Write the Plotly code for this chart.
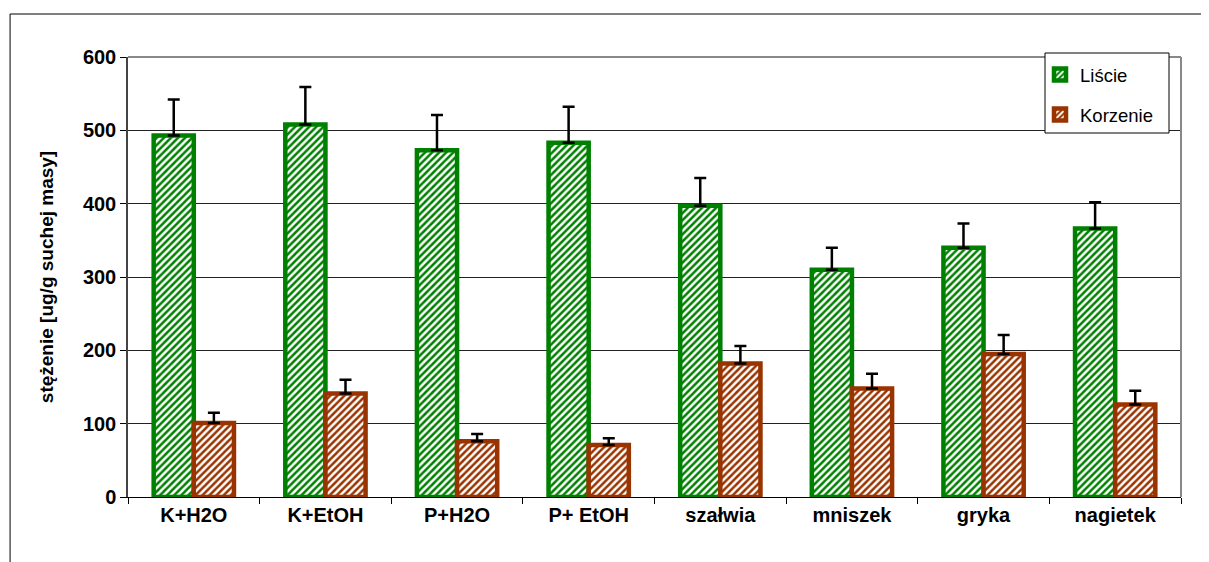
import plotly.graph_objects as go

categories = ["K+H2O", "K+EtOH", "P+H2O", "P+ EtOH", "szałwia", "mniszek", "gryka", "nagietek"]
liscie = [493, 508, 473, 483, 397, 310, 340, 366]
liscie_err = [49, 51, 48, 49, 38, 30, 33, 36]
korzenie = [101, 141, 76, 71, 182, 148, 195, 126]
korzenie_err = [14, 19, 10, 9, 24, 20, 26, 19]
y_ticks = [0, 100, 200, 300, 400, 500, 600]

GREEN = "#008000"
BROWN = "#993300"
FONT = "Liberation Sans, Arial, sans-serif"

# plot area in page pixels (page body has an 8px margin)
PX0, PX1, PY0, PY1 = 128, 1181, 57, 497


def px(x):
    return (x - PX0) / (PX1 - PX0)


def py(y):
    return (PY1 - y) / (PY1 - PY0)


fig = go.Figure()
for name, vals, errs, col in [("Liście", liscie, liscie_err, GREEN),
                              ("Korzenie", korzenie, korzenie_err, BROWN)]:
    fig.add_trace(go.Bar(
        name=name, x=categories, y=vals, legendgroup=name,
        marker=dict(color=col, line=dict(color=col, width=4.5),
                    pattern=dict(shape="/", fgcolor="white", bgcolor=col,
                                 fillmode="replace", size=5, solidity=0.5)),
        error_y=dict(type="data", symmetric=False, array=errs,
                     arrayminus=[0] * len(errs), color="black",
                     thickness=2.5, width=6),
    ))

fig.update_layout(
    width=1209, height=562,
    margin=dict(l=PX0 - 8, r=1209 + 8 - PX1, t=PY0 - 8, b=562 + 8 - PY1),
    paper_bgcolor="white", plot_bgcolor="white",
    barmode="group", bargap=0.39, bargroupgap=0,
    font=dict(family=FONT, color="black"),
    showlegend=True,
    legend=dict(x=px(1040), y=py(56), xanchor="left", yanchor="top",
                bgcolor="rgba(0,0,0,0)", borderwidth=0,
                font=dict(size=18.5, family=FONT), tracegroupgap=13,
                traceorder="grouped"),
    xaxis=dict(showgrid=False, showline=True, linecolor="black", linewidth=1,
               ticks="outside", tickson="boundaries", ticklen=6, tickcolor="black",
               tickfont=dict(size=20, family=FONT, weight="bold"),
               fixedrange=True),
    yaxis=dict(range=[0, 600], tickvals=y_ticks, showgrid=True, gridcolor="#222",
               gridwidth=1, showline=True, linecolor="#444", linewidth=1.5,
               ticks="outside", ticklen=6, tickcolor="black", zeroline=False,
               tickfont=dict(size=20, family=FONT, weight="bold"),
               title=dict(text="stężenie [ug/g suchej masy]",
                          font=dict(size=19, family=FONT, weight="bold"), standoff=24)),
    shapes=[
        dict(type="line", xref="paper", yref="paper", x0=0, x1=1, y0=1, y1=1,
             line=dict(color="#888", width=2)),
        dict(type="line", xref="paper", yref="paper", x0=1, x1=1, y0=0, y1=1,
             line=dict(color="#888", width=2)),
        dict(type="rect", xref="paper", yref="paper", x0=-0.112, x1=1.2,
             y0=-0.5, y1=1.0977, line=dict(color="black", width=1),
             fillcolor="rgba(0,0,0,0)", layer="below"),
        # legend box
        dict(type="rect", xref="paper", yref="paper", x0=px(1045), x1=px(1169),
             y0=py(133), y1=py(53), line=dict(color="black", width=1),
             fillcolor="white", layer="above"),
    ],
)

fig.write_html("out.html")
